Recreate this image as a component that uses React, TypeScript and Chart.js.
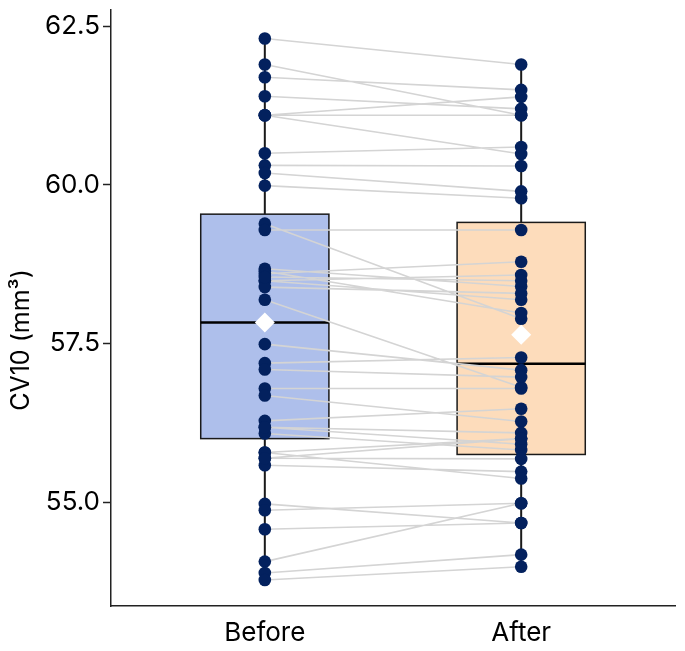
import React, { useEffect, useRef } from 'react';
import { Chart, registerables } from 'chart.js';

Chart.register(...registerables);

// Groups on the x axis (placed at x = 0 and x = 1)
const groups = ['Before', 'After'];

// Paired CV10 measurements: beforeValues[i] belongs with afterValues[i]
const beforeValues = [
  62.31, 61.9, 61.7, 61.4, 61.1, 61.1, 61.1, 60.5, 60.31, 60.19, 59.99,
  59.39, 59.29, 58.68, 58.64, 58.6, 58.49, 58.49, 58.39, 58.55, 58.19,
  57.49, 57.19, 57.09, 56.79, 56.68, 56.28, 56.18, 56.08, 55.78, 55.69,
  55.58, 55.78, 54.97, 54.87, 54.57, 54.06, 53.88, 53.77, 56.18, 55.69,
];
const afterValues = [
  61.9, 61.1, 61.5, 61.2, 61.39, 61.1, 60.49, 60.6, 60.3, 59.9, 59.79,
  57.89, 59.29, 58.4, 57.98, 58.79, 58.19, 58.58, 58.29, 58.49, 56.81,
  57.08, 57.28, 56.97, 56.79, 56.27, 56.47, 56.09, 55.82, 56.0, 55.68,
  55.48, 55.37, 54.67, 54.98, 54.67, 54.98, 54.17, 53.98, 55.91, 56.0,
];

// Box summaries per group
const boxQ1 = [56.0, 55.75];
const boxMedian = [57.83, 57.18];
const boxQ3 = [59.54, 59.41];
const groupMeans = [57.83, 57.64];

const yTicks = [55.0, 57.5, 60.0, 62.5];
const yLabel = 'CV10 (mm³)';

const boxFills = ['#aebfeb', '#fddcbb'];
const pointColor = '#03215e';
const pairLineColor = '#d4d4d4';
const BOX_HALF = 0.25;
const FONT = 'Inter, "Noto Sans", sans-serif';

const boxPlugin = {
  id: 'boxes',
  beforeDatasetsDraw(chart: any) {
    const { ctx, scales } = chart;
    const x = scales.x;
    const y = scales.y;
    const series = [beforeValues, afterValues];
    ctx.save();
    groups.forEach((_, i) => {
      const vals = series[i];
      const lo = Math.min(...vals);
      const hi = Math.max(...vals);
      const cx = x.getPixelForValue(i);
      const left = x.getPixelForValue(i - BOX_HALF);
      const right = x.getPixelForValue(i + BOX_HALF);
      const top = y.getPixelForValue(boxQ3[i]);
      const bottom = y.getPixelForValue(boxQ1[i]);

      // whiskers
      ctx.strokeStyle = '#1a1a1a';
      ctx.lineWidth = 2;
      ctx.beginPath();
      ctx.moveTo(cx, y.getPixelForValue(hi));
      ctx.lineTo(cx, top);
      ctx.moveTo(cx, bottom);
      ctx.lineTo(cx, y.getPixelForValue(lo));
      ctx.stroke();

      // box
      ctx.fillStyle = boxFills[i];
      ctx.fillRect(left, top, right - left, bottom - top);
      ctx.lineWidth = 1.5;
      ctx.strokeStyle = '#1a1a1a';
      ctx.strokeRect(left, top, right - left, bottom - top);

      // median
      const my = y.getPixelForValue(boxMedian[i]);
      ctx.lineWidth = 2.5;
      ctx.strokeStyle = '#000';
      ctx.beginPath();
      ctx.moveTo(left, my);
      ctx.lineTo(right, my);
      ctx.stroke();
    });
    ctx.restore();
  },
  afterDraw(chart: any) {
    const { ctx } = chart;
    ctx.save();
    ctx.translate(21, 340);
    ctx.rotate(-Math.PI / 2);
    ctx.fillStyle = '#000';
    ctx.font = `25px ${FONT}`;
    ctx.textAlign = 'center';
    ctx.textBaseline = 'middle';
    ctx.fillText(yLabel, 0, 0);
    ctx.restore();
  },
};

export default function App() {
  const canvasRef = useRef<HTMLCanvasElement | null>(null);

  useEffect(() => {
    if (!canvasRef.current) return;

    const pairData: any[] = [];
    beforeValues.forEach((b, i) => {
      pairData.push({ x: 0, y: b });
      pairData.push({ x: 1, y: afterValues[i] });
      pairData.push({ x: 0.5, y: null });
    });

    const pointData = [
      ...beforeValues.map((v) => ({ x: 0, y: v })),
      ...afterValues.map((v) => ({ x: 1, y: v })),
    ];
    const meanData = groupMeans.map((m, i) => ({ x: i, y: m }));

    const chart = new Chart(canvasRef.current, {
      type: 'scatter',
      data: {
        datasets: [
          {
            label: 'mean',
            data: meanData,
            order: 0,
            pointStyle: 'rectRot',
            pointRadius: 10,
            backgroundColor: '#ffffff',
            borderColor: '#ffffff',
            borderWidth: 0,
          },
          {
            label: 'values',
            data: pointData,
            order: 1,
            pointRadius: 6.3,
            backgroundColor: pointColor,
            borderColor: pointColor,
            borderWidth: 0,
          },
          {
            label: 'pairs',
            data: pairData,
            order: 2,
            showLine: true,
            spanGaps: false,
            pointRadius: 0,
            borderColor: pairLineColor,
            borderWidth: 1.6,
          } as any,
        ],
      },
      options: {
        animation: false,
        responsive: true,
        maintainAspectRatio: false,
        layout: { padding: { top: 8, right: 10, left: 0, bottom: 0 } },
        plugins: {
          legend: { display: false },
          tooltip: { enabled: false },
        },
        scales: {
          x: {
            type: 'linear',
            min: -0.6,
            max: 1.6,
            afterFit: (scale: any) => {
              scale.height = 45;
              scale.paddingLeft = 0;
              scale.paddingRight = 0;
            },
            afterBuildTicks: (scale: any) => {
              scale.ticks = groups.map((_, i) => ({ value: i }));
            },
            ticks: {
              color: '#000',
              font: { family: FONT, size: 26 },
              padding: 12,
              callback: (v: any) => groups[Number(v)] ?? '',
            },
            grid: { display: false, drawTicks: false },
            border: { display: true, color: '#222', width: 1.5 },
          },
          y: {
            type: 'linear',
            min: 53.36,
            max: 62.76,
            afterFit: (scale: any) => {
              scale.width = 111;
              scale.paddingTop = 0;
              scale.paddingBottom = 0;
            },
            afterBuildTicks: (scale: any) => {
              scale.ticks = yTicks.map((v) => ({ value: v }));
            },
            ticks: {
              color: '#000',
              font: { family: FONT, size: 26 },
              padding: 3,
              callback: (v: any) => Number(v).toFixed(1),
            },
            grid: {
              drawOnChartArea: false,
              drawTicks: true,
              tickLength: 8,
              tickColor: '#222',
              tickWidth: 1.5,
            },
            border: { display: true, color: '#222', width: 1.5 },
          },
        },
      },
      plugins: [boxPlugin],
    });

    return () => chart.destroy();
  }, []);

  return (
    <div style={{ position: 'fixed', left: 0, top: 0, width: 685, height: 651 }}>
      <canvas ref={canvasRef} />
    </div>
  );
}
